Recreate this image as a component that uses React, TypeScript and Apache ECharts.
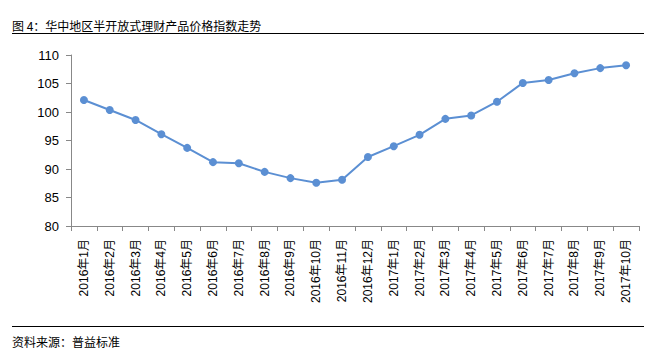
import React, { useEffect, useRef } from "react";
import * as echarts from "echarts";

const titleText = "图 4：华中地区半开放式理财产品价格指数走势";
const sourceText = "资料来源：普益标准";
const categories = [
  "2016年1月", "2016年2月", "2016年3月", "2016年4月", "2016年5月", "2016年6月",
  "2016年7月", "2016年8月", "2016年9月", "2016年10月", "2016年11月", "2016年12月",
  "2017年1月", "2017年2月", "2017年3月", "2017年4月", "2017年5月", "2017年6月",
  "2017年7月", "2017年8月", "2017年9月", "2017年10月",
];
const values = [
  102.1, 100.35, 98.6, 96.1, 93.7, 91.2, 91.0, 89.5, 88.4, 87.6, 88.1, 92.1,
  94.0, 96.0, 98.8, 99.4, 101.8, 105.1, 105.6, 106.8, 107.7, 108.2,
];
const yMin = 80;
const yMax = 110;
const yInterval = 5;

export default function App() {
  const ref = useRef<HTMLDivElement>(null);
  useEffect(() => {
    if (!ref.current) return;
    const chart = echarts.init(ref.current, undefined, { renderer: "svg" });
    const cjk = '"Noto Sans CJK SC", sans-serif';
    chart.setOption({
      animation: false,
      backgroundColor: "#ffffff",
      grid: { left: 71, right: 17, top: 55, bottom: 126 },
      xAxis: {
        type: "category",
        data: categories,
        boundaryGap: true,
        axisLine: { lineStyle: { color: "#888888", width: 1 } },
        axisTick: { show: true, alignWithLabel: false, length: 5, lineStyle: { color: "#888888" } },
        axisLabel: {
          rotate: 90,
          interval: 0,
          color: "#000000",
          fontSize: 12,
          fontFamily: '"Liberation Sans", "Noto Sans CJK SC", sans-serif',
          margin: 13,
        },
      },
      yAxis: {
        type: "value",
        min: yMin,
        max: yMax,
        interval: yInterval,
        axisLine: { show: true, lineStyle: { color: "#888888", width: 1 } },
        axisTick: { show: true, length: 5, lineStyle: { color: "#888888" } },
        splitLine: { show: false },
        axisLabel: {
          color: "#000000",
          fontSize: 13,
          fontFamily: '"Liberation Sans", sans-serif',
          margin: 12,
        },
      },
      series: [
        {
          type: "line",
          data: values,
          symbol: "circle",
          symbolSize: 8,
          lineStyle: { color: "#5B8FD3", width: 2 },
          itemStyle: { color: "#5B8FD3" },
        },
      ],
      graphic: [
        {
          type: "text",
          x: 12,
          y: 25,
          style: { text: titleText, font: `12px ${cjk}`, fill: "#000000", verticalAlign: "middle" },
        },
        {
          type: "line",
          shape: { x1: 12, y1: 33.5, x2: 644, y2: 33.5 },
          style: { stroke: "#000000", lineWidth: 1 },
        },
        {
          type: "line",
          shape: { x1: 12, y1: 326.5, x2: 644, y2: 326.5 },
          style: { stroke: "#000000", lineWidth: 1 },
        },
        {
          type: "text",
          x: 12,
          y: 341.5,
          style: { text: sourceText, font: `12px ${cjk}`, fill: "#000000", verticalAlign: "middle" },
        },
      ],
    });
    return () => chart.dispose();
  }, []);
  return <div ref={ref} style={{ width: 656, height: 352, position: "absolute", left: 0, top: 0 }} />;
}
